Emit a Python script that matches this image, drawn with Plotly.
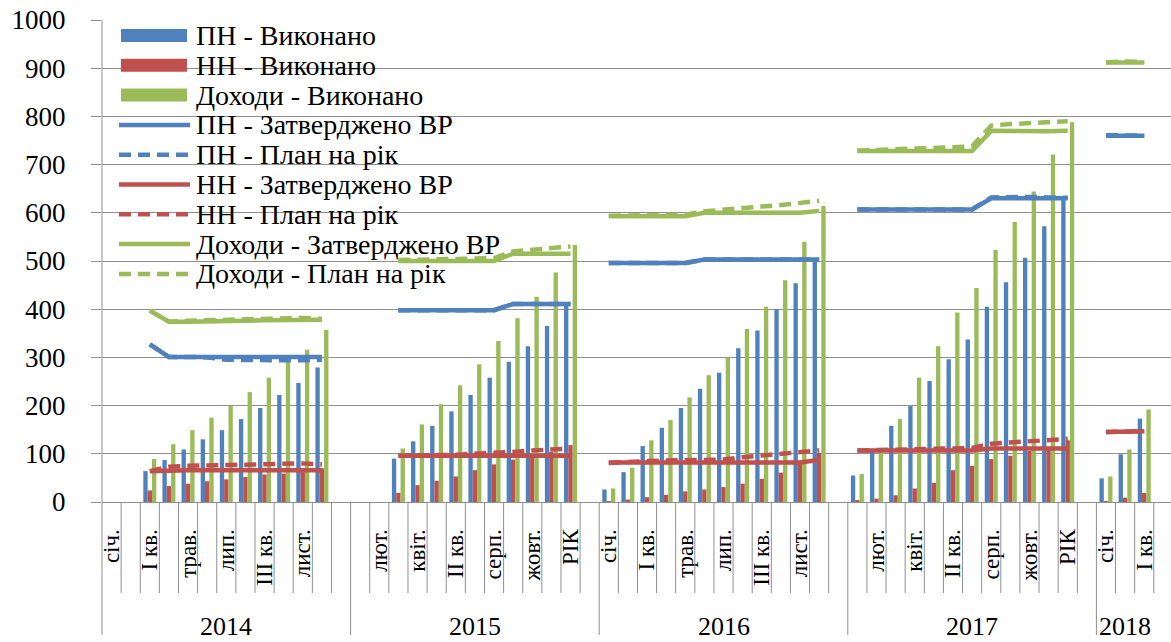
import plotly.graph_objects as go

# ---------------- data ----------------
years = ["2014", "2015", "2016", "2017", "2018"]
months = ["січ.", "лют.", "I кв.", "квіт.", "трав.", "II кв.", "лип.", "серп.",
          "III кв.", "жовт.", "лист.", "РІК", ""]
months_2018 = ["січ.", "лют.", "I кв.", ""]

_ = None
# bars (Виконано)
pn_done = [
    _, _, 64, 87, 109, 130, 149, 172, 195, 222, 247, 279, _,
    _, _, 90, 126, 158, 188, 222, 258, 291, 323, 365, 412, _,
    26, 62, 116, 154, 195, 235, 268, 319, 356, 400, 454, 502, _,
    55, 104, 158, 199, 251, 296, 337, 405, 456, 507, 572, 632, _,
    49, 99, 173, _,
]
nn_done = [
    _, _, 24, 33, 38, 43, 47, 52, 57, 59, 62, 70, _,
    _, _, 19, 35, 44, 53, 66, 78, 88, 96, 104, 118, _,
    2, 5, 10, 15, 22, 26, 31, 38, 48, 61, 80, 102, _,
    3, 7, 14, 28, 40, 66, 75, 89, 96, 106, 110, 128, _,
    1, 9, 19, _,
]
doh_done = [
    _, _, 89, 120, 149, 175, 199, 228, 258, 291, 316, 357, _,
    _, _, 111, 161, 203, 242, 286, 334, 381, 426, 476, 533, _,
    28, 71, 128, 170, 217, 263, 300, 359, 405, 460, 540, 614, _,
    58, 104, 172, 258, 323, 393, 444, 523, 581, 644, 721, 788, _,
    53, 109, 192, _,
]
# lines (Затверджено ВР / План на рік)
pn_appr = [
    _, _, 327, 301, 301, 301, 301, 301, 301, 301, 301, 301, _,
    _, _, 398, 398, 398, 398, 398, 398, 411, 411, 411, 411, _,
    496, 496, 496, 496, 496, 503, 503, 503, 503, 503, 503, 503, _,
    607, 607, 607, 607, 607, 607, 607, 630, 630, 630, 630, 630, _,
    760, 760, 760, _,
]
pn_plan = [
    _, _, 327, 301, 301, 300, 295, 294, 294, 294, 294, 295, _,
    _, _, 398, 398, 398, 398, 398, 398, 411, 411, 411, 411, _,
    496, 496, 496, 496, 496, 503, 503, 503, 503, 503, 503, 503, _,
    607, 607, 607, 607, 607, 607, 607, 632, 633, 633, 632, 631, _,
    761, 761, 760, _,
]
nn_appr = [
    _, _, 64, 66, 66, 66, 66, 66, 66, 66, 66, 66, _,
    _, _, 96, 96, 96, 96, 96, 96, 96, 96, 96, 96, _,
    82, 82, 82, 82, 82, 82, 82, 82, 82, 82, 82, 87, _,
    107, 107, 107, 107, 107, 107, 107, 111, 111, 111, 111, 111, _,
    145, 146, 147, _,
]
nn_plan = [
    _, _, 64, 73, 75, 76, 77, 78, 79, 80, 80, 78, _,
    _, _, 96, 96, 97, 98, 100, 101, 104, 107, 108, 111, _,
    81, 84, 85, 86, 86, 87, 88, 93, 97, 100, 104, 107, _,
    107, 108, 108, 109, 109, 110, 112, 121, 124, 127, 129, 131, _,
    145, 147, 147, _,
]
doh_appr = [
    _, _, 397, 374, 374, 374, 375, 376, 377, 378, 378, 378, _,
    _, _, 500, 500, 500, 500, 500, 500, 515, 515, 515, 515, _,
    593, 593, 593, 593, 593, 600, 600, 600, 600, 600, 600, 604, _,
    728, 728, 728, 728, 728, 728, 728, 770, 769, 769, 769, 770, _,
    912, 913, 912, _,
]
doh_plan = [
    _, _, 397, 374, 376, 377, 379, 380, 381, 381, 382, 380, _,
    _, _, 502, 503, 503, 504, 505, 506, 520, 524, 527, 530, _,
    594, 594, 594, 595, 596, 603, 607, 610, 613, 616, 620, 625, _,
    729, 730, 731, 733, 734, 736, 738, 781, 784, 786, 788, 790, _,
    912, 914, 913, _,
]

legend_labels = ["ПН - Виконано", "НН - Виконано", "Доходи - Виконано",
                 "ПН - Затверджено ВР", "ПН - План на рік",
                 "НН - Затверджено ВР", "НН - План на рік",
                 "Доходи - Затверджено ВР", "Доходи - План на рік"]

# ---------------- categories ----------------
cat_year, cat_label, keys = [], [], []
for y in years:
    for m in (months_2018 if y == "2018" else months):
        cat_year.append(y)
        cat_label.append(m)
        keys.append(f"{y} {m}" if m else f"{y} -")

BLUE, RED, GREEN = "#4F81BD", "#C0504D", "#9BBB59"
GRID = "#8f8f8f"
FONT = "Liberation Serif, Tinos, Times New Roman, DejaVu Serif, serif"

fig = go.Figure()
for vals, col, name in [(pn_done, BLUE, legend_labels[0]),
                        (nn_done, RED, legend_labels[1]),
                        (doh_done, GREEN, legend_labels[2])]:
    fig.add_trace(go.Bar(x=keys, y=vals, name=name, marker=dict(color=col, line=dict(width=0)),
                         showlegend=False))

DASH = "12px,7px"
line_specs = [(pn_appr, BLUE, "solid", 3), (pn_plan, BLUE, DASH, 4),
              (nn_appr, RED, "solid", 5), (nn_plan, RED, DASH, 6),
              (doh_appr, GREEN, "solid", 7), (doh_plan, GREEN, DASH, 8)]
for vals, col, dash, li in line_specs:
    fig.add_trace(go.Scatter(x=keys, y=vals, mode="lines", name=legend_labels[li],
                             line=dict(color=col, width=4.5, dash=dash),
                             connectgaps=False, showlegend=False))

# ---------------- layout helpers ----------------
L, R, T, B = 102, 0, 20, 140
W, H = 1171, 642
PW, PH = W - L - R, H - T - B


def pxx(px):
    return (px - L) / PW


def pxy(py):
    return (H - B - py) / PH


shapes = []
# y-axis line, extended down through the category area
shapes.append(dict(type="line", xref="paper", yref="paper", x0=0, x1=0,
                   y0=pxy(635), y1=1, line=dict(color=GRID, width=1)))
n = len(keys)
for i in range(n - 1):
    boundary = cat_year[i] != cat_year[i + 1]
    shapes.append(dict(type="line", xref="x", yref="paper", x0=i + 0.5, x1=i + 0.5,
                       y0=0, y1=pxy(635) if boundary else pxy(593),
                       line=dict(color=GRID, width=1)))

annotations = []
# year labels
for y in years:
    idx = [i for i, cy in enumerate(cat_year) if cy == y]
    if y == "2018":
        idx = idx[:3]
    centre = sum(idx) / len(idx)
    annotations.append(dict(x=centre, y=pxy(643), xref="x", yref="paper", text=y,
                            showarrow=False, xanchor="center", yanchor="bottom",
                            font=dict(family=FONT, size=26, color="black")))

# legend (drawn in the plot's upper-left corner)
leg_styles = [("bar", BLUE, None), ("bar", RED, None), ("bar", GREEN, None),
              ("line", BLUE, "solid"), ("line", BLUE, "dash"),
              ("line", RED, "solid"), ("line", RED, "dash"),
              ("line", GREEN, "solid"), ("line", GREEN, "dash")]
for k, (lab, (kind, col, dash)) in enumerate(zip(legend_labels, leg_styles)):
    yc = 35.5 + k * 29.8
    if kind == "bar":
        shapes.append(dict(type="rect", xref="paper", yref="paper",
                           x0=pxx(121), x1=pxx(187), y0=pxy(yc + 6.5), y1=pxy(yc - 6.5),
                           fillcolor=col, line=dict(width=0)))
    else:
        shapes.append(dict(type="line", xref="paper", yref="paper",
                           x0=pxx(119), x1=pxx(190), y0=pxy(yc), y1=pxy(yc),
                           line=dict(color=col, width=4.5,
                                     dash="solid" if dash == "solid" else DASH)))
    annotations.append(dict(x=pxx(194), y=pxy(yc), xref="paper", yref="paper", text=lab,
                            showarrow=False, xanchor="left", yanchor="middle",
                            font=dict(family=FONT, size=28, color="black")))

fig.update_layout(
    width=W, height=H,
    margin=dict(l=L, r=R, t=T, b=B, pad=0),
    paper_bgcolor="white", plot_bgcolor="white",
    barmode="group", bargap=0.32, bargroupgap=0,
    showlegend=False,
    font=dict(family=FONT, color="black"),
    shapes=shapes, annotations=annotations,
    xaxis=dict(type="category", categoryorder="array", categoryarray=keys,
               range=[-0.5, 55.4], tickmode="array", tickvals=keys[::2],
               ticktext=cat_label[::2], tickangle=-90,
               tickfont=dict(family=FONT, size=23, color="black"),
               ticks="", showgrid=False, showline=True, linecolor=GRID, linewidth=1,
               ticklabelstandoff=17, automargin=False, zeroline=False, fixedrange=True),
    yaxis=dict(range=[0, 1000], dtick=100, tick0=0, showgrid=True, gridcolor=GRID,
               gridwidth=1, zeroline=False, showline=False, ticks="outside", ticklen=10,
               tickcolor=GRID, tickwidth=1,
               tickfont=dict(family=FONT, size=27, color="black"),
               ticklabelstandoff=20, automargin=False, fixedrange=True),
)

fig.write_html("out.html", config={"displayModeBar": False},
               post_script="document.body.style.margin='0';document.body.style.overflow='hidden';")
